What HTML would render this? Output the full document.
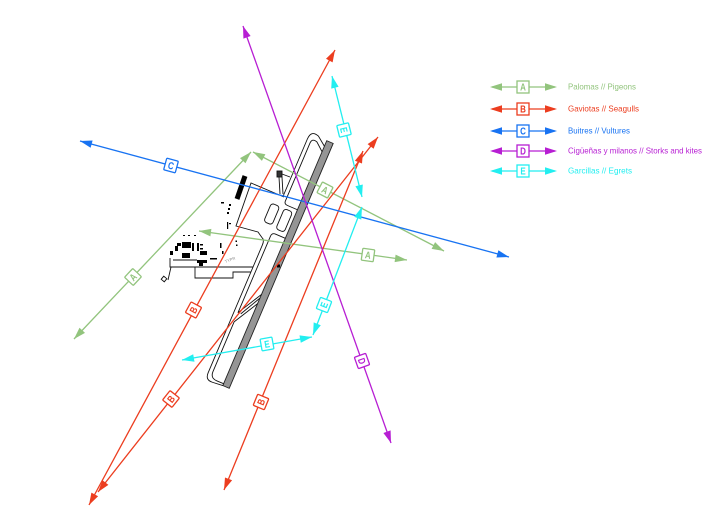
<!DOCTYPE html>
<html><head><meta charset="utf-8"><style>
html,body{margin:0;padding:0;background:#fff;}
svg{display:block;}
text{font-family:"Liberation Sans",sans-serif;}
</style></head><body>
<svg width="710" height="516" viewBox="0 0 710 516" xmlns="http://www.w3.org/2000/svg">
<rect width="710" height="516" fill="#fff"/>

<!-- Airport -->
<g transform="translate(278,264.5) rotate(23)" fill="none" stroke="#111" stroke-width="0.9">
  <rect x="-3.5" y="-133" width="7" height="266" fill="#959595" stroke="#222"/>
  <path d="M-3.5,-127 L-13,-134 Q-22,-137 -22,-127 L-22,-64"/>
  <path d="M-3.5,-121 L-12,-128 Q-18,-130 -18,-124 L-18,-61 Q-18,-58 -14,-58 L-3.5,-58"/>
  <rect x="-30" y="-54" width="9" height="20" rx="3"/>
  <rect x="-16" y="-54" width="9" height="22" rx="3"/>
  <path d="M-3.5,-27 L-14,-27 Q-18,-27 -18,-23 L-18,60"/>
  <path d="M-18,70 L-18,124 Q-18,131 -11,131 L-3.5,131"/>
  <path d="M-24,-18 Q-22,-16 -22,-12 L-22,127 Q-22,135 -14,134 L-3.5,133"/>
  <path d="M-3.5,34 L-18,60"/>
  <path d="M-3.5,44 L-18,70"/>
  <path d="M-3.5,38 L-15,60"/>
</g>
<g fill="none" stroke="#111" stroke-width="0.9">
  <path d="M284,197 L251,183 L236,226 L258,232 L263,239"/>
  <rect x="277" y="171" width="5" height="6" fill="#333"/>
  <path d="M279,177 L280,194 M282,177 L283,194 M282,174 L290,177"/>
  <path d="M170,258 L170,267 L253,267"/>
  <path d="M195,267 L195,278 L233,278 L233,272 L251,272"/>
  <path d="M173,260 L197,260"/>
  <path d="M171,267 L168,280"/>
  <rect x="162" y="277" width="4" height="4" transform="rotate(40 164 279)"/>
</g>
<line x1="245" y1="176" x2="237" y2="199" stroke="#000" stroke-width="5"/>
<g fill="#000">
  <rect x="221" y="202" width="3" height="1.5"/>
  <rect x="229" y="204" width="2" height="2"/>
  <rect x="228" y="208" width="2" height="2"/>
  <rect x="227" y="212" width="2" height="2"/>
  <rect x="227" y="222" width="1.2" height="7"/>
  <rect x="229" y="223" width="2" height="1.2"/>
  <rect x="235.5" y="240.5" width="1.5" height="1.5"/>
  <rect x="236" y="244.5" width="1.5" height="1.5"/>
  <rect x="277" y="264.5" width="3" height="3"/>
  <rect x="177" y="243" width="4" height="3"/>
  <rect x="182" y="242" width="9" height="6"/>
  <rect x="182" y="253" width="8" height="5"/>
  <rect x="192" y="243" width="2" height="8"/>
  <rect x="197" y="243" width="2" height="8"/>
  <rect x="200" y="244" width="3" height="1.5"/>
  <rect x="200" y="248" width="3" height="1.5"/>
  <rect x="200" y="251" width="7" height="4"/>
  <rect x="197" y="260" width="10" height="3"/>
  <rect x="199" y="263" width="4" height="3"/>
  <rect x="210" y="258" width="7" height="1.5"/>
  <rect x="220" y="243" width="1.5" height="5"/>
  <rect x="222" y="251" width="1.5" height="3"/>
  <rect x="175" y="246" width="3" height="5"/>
  <rect x="170" y="251" width="3" height="4"/>
  <rect x="183" y="235" width="2" height="1"/>
  <rect x="188" y="235" width="2" height="1"/>
  <rect x="194" y="235" width="2" height="1"/>
</g>
<text x="225" y="262" font-size="4" fill="#888" transform="rotate(-20 228 261)">TYPR</text>

<!-- Lines -->
<g stroke-width="1.3" fill="none">
  <line x1="74" y1="339" x2="251" y2="152" stroke="#92c47d"/>
  <line x1="253" y1="152" x2="444" y2="251" stroke="#92c47d"/>
  <line x1="199" y1="231" x2="407" y2="260" stroke="#92c47d"/>
  <line x1="89" y1="505" x2="335" y2="50" stroke="#ec3d1f"/>
  <line x1="98" y1="492" x2="378" y2="137" stroke="#ec3d1f"/>
  <line x1="224" y1="490" x2="363" y2="151" stroke="#ec3d1f"/>
  <line x1="80" y1="141" x2="509" y2="257" stroke="#1873f2"/>
  <line x1="243" y1="26" x2="391" y2="443" stroke="#b71ed3"/>
  <line x1="332" y1="76" x2="362" y2="197" stroke="#22eef0"/>
  <line x1="362" y1="207" x2="313" y2="335" stroke="#22eef0"/>
  <line x1="182" y1="360" x2="312" y2="337" stroke="#22eef0"/>
</g>
<!-- Arrowheads -->
<g fill="#92c47d">
  <polygon points="251,152 245.5,163.3 240.0,158.1"/>
  <polygon points="74,339 85.0,332.9 79.5,327.7"/>
  <polygon points="444,251 431.6,248.9 435.1,242.1"/>
  <polygon points="253,152 261.9,160.9 265.4,154.2"/>
  <polygon points="407,260 394.6,262.1 395.6,254.6"/>
  <polygon points="199,231 210.4,236.4 211.4,228.9"/>
</g>
<g fill="#ec3d1f">
  <polygon points="335,50 332.6,62.4 326.0,58.8"/>
  <polygon points="89,505 98.1,496.3 91.4,492.6"/>
  <polygon points="378,137 373.6,148.8 367.6,144.1"/>
  <polygon points="98,492 108.4,484.9 102.5,480.2"/>
  <polygon points="363,151 362.0,163.5 354.9,160.7"/>
  <polygon points="224,490 232.1,480.3 225.0,477.5"/>
</g>
<g fill="#1873f2">
  <polygon points="509,257 496.4,257.5 498.4,250.2"/>
  <polygon points="80,141 90.6,147.8 92.6,140.5"/>
</g>
<g fill="#b71ed3">
  <polygon points="391,443 383.4,433.0 390.6,430.4"/>
  <polygon points="243,26 243.4,38.6 250.6,36.0"/>
</g>
<g fill="#22eef0">
  <polygon points="362,197 355.4,186.3 362.8,184.5"/>
  <polygon points="332,76 331.2,88.6 338.6,86.7"/>
  <polygon points="313,335 313.7,322.4 320.8,325.2"/>
  <polygon points="362,207 354.2,216.8 361.3,219.6"/>
  <polygon points="312,337 300.8,342.8 299.5,335.4"/>
  <polygon points="182,360 194.5,361.7 193.2,354.2"/>
</g>

<!-- Labels on lines -->
<g font-size="10" font-weight="bold" text-anchor="middle">
  <g transform="translate(133,277) rotate(-46.6)"><rect x="-6" y="-6" width="12" height="12" rx="1" fill="#fff" stroke="#92c47d" stroke-width="1.3"/><text x="0" y="3.6" fill="#92c47d" transform="scale(0.8,1)">A</text></g>
  <g transform="translate(325,190) rotate(27.4)"><rect x="-6" y="-6" width="12" height="12" rx="1" fill="#fff" stroke="#92c47d" stroke-width="1.3"/><text x="0" y="3.6" fill="#92c47d" transform="scale(0.8,1)">A</text></g>
  <g transform="translate(368,255) rotate(7.9)"><rect x="-6" y="-6" width="12" height="12" rx="1" fill="#fff" stroke="#92c47d" stroke-width="1.3"/><text x="0" y="3.6" fill="#92c47d" transform="scale(0.8,1)">A</text></g>
  <g transform="translate(193.5,310) rotate(-61.6)"><rect x="-6" y="-6" width="12" height="12" rx="1" fill="#fff" stroke="#ec3d1f" stroke-width="1.3"/><text x="0" y="3.6" fill="#ec3d1f" transform="scale(0.8,1)">B</text></g>
  <g transform="translate(171,399) rotate(-51.7)"><rect x="-6" y="-6" width="12" height="12" rx="1" fill="#fff" stroke="#ec3d1f" stroke-width="1.3"/><text x="0" y="3.6" fill="#ec3d1f" transform="scale(0.8,1)">B</text></g>
  <g transform="translate(261,402) rotate(-67.7)"><rect x="-6" y="-6" width="12" height="12" rx="1" fill="#fff" stroke="#ec3d1f" stroke-width="1.3"/><text x="0" y="3.6" fill="#ec3d1f" transform="scale(0.8,1)">B</text></g>
  <g transform="translate(171,165.5) rotate(15.1)"><rect x="-6" y="-6" width="12" height="12" rx="1" fill="#fff" stroke="#1873f2" stroke-width="1.3"/><text x="0" y="3.6" fill="#1873f2" transform="scale(0.8,1)">C</text></g>
  <g transform="translate(362,361) rotate(70.5)"><rect x="-6" y="-6" width="12" height="12" rx="1" fill="#fff" stroke="#b71ed3" stroke-width="1.3"/><text x="0" y="3.6" fill="#b71ed3" transform="scale(0.8,1)">D</text></g>
  <g transform="translate(344,130) rotate(76.1)"><rect x="-6" y="-6" width="12" height="12" rx="1" fill="#fff" stroke="#22eef0" stroke-width="1.3"/><text x="0" y="3.6" fill="#22eef0" transform="scale(0.8,1)">E</text></g>
  <g transform="translate(324,305) rotate(-69.1)"><rect x="-6" y="-6" width="12" height="12" rx="1" fill="#fff" stroke="#22eef0" stroke-width="1.3"/><text x="0" y="3.6" fill="#22eef0" transform="scale(0.8,1)">E</text></g>
  <g transform="translate(267,344) rotate(-10.1)"><rect x="-6" y="-6" width="12" height="12" rx="1" fill="#fff" stroke="#22eef0" stroke-width="1.3"/><text x="0" y="3.6" fill="#22eef0" transform="scale(0.8,1)">E</text></g>
</g>

<!-- Legend -->
<g stroke-width="1.3">
  <line x1="492" y1="87" x2="555" y2="87" stroke="#92c47d"/>
  <line x1="492" y1="109" x2="555" y2="109" stroke="#ec3d1f"/>
  <line x1="492" y1="131" x2="555" y2="131" stroke="#1873f2"/>
  <line x1="492" y1="151" x2="555" y2="151" stroke="#b71ed3"/>
  <line x1="492" y1="171" x2="555" y2="171" stroke="#22eef0"/>
</g>
<g fill="#92c47d"><polygon points="490,87 502,83.2 502,90.8"/><polygon points="557,87 545,83.2 545,90.8"/></g>
<g fill="#ec3d1f"><polygon points="490,109 502,105.2 502,112.8"/><polygon points="557,109 545,105.2 545,112.8"/></g>
<g fill="#1873f2"><polygon points="490,131 502,127.2 502,134.8"/><polygon points="557,131 545,127.2 545,134.8"/></g>
<g fill="#b71ed3"><polygon points="490,151 502,147.2 502,154.8"/><polygon points="557,151 545,147.2 545,154.8"/></g>
<g fill="#22eef0"><polygon points="490,171 502,167.2 502,174.8"/><polygon points="557,171 545,167.2 545,174.8"/></g>
<g font-size="10" font-weight="bold" text-anchor="middle">
  <rect x="517" y="81" width="12" height="12" fill="#fff" stroke="#92c47d" stroke-width="1.3"/><text x="653.75" y="90.6" fill="#92c47d" transform="scale(0.8,1)">A</text>
  <rect x="517" y="103" width="12" height="12" fill="#fff" stroke="#ec3d1f" stroke-width="1.3"/><text x="653.75" y="112.6" fill="#ec3d1f" transform="scale(0.8,1)">B</text>
  <rect x="517" y="125" width="12" height="12" fill="#fff" stroke="#1873f2" stroke-width="1.3"/><text x="653.75" y="134.6" fill="#1873f2" transform="scale(0.8,1)">C</text>
  <rect x="517" y="145" width="12" height="12" fill="#fff" stroke="#b71ed3" stroke-width="1.3"/><text x="653.75" y="154.6" fill="#b71ed3" transform="scale(0.8,1)">D</text>
  <rect x="517" y="165" width="12" height="12" fill="#fff" stroke="#22eef0" stroke-width="1.3"/><text x="653.75" y="174.6" fill="#22eef0" transform="scale(0.8,1)">E</text>
</g>
<g font-size="8.5">
  <text x="568" y="89.5" fill="#92c47d" textLength="68" lengthAdjust="spacingAndGlyphs">Palomas // Pigeons</text>
  <text x="568" y="111.5" fill="#ec3d1f" textLength="71" lengthAdjust="spacingAndGlyphs">Gaviotas // Seagulls</text>
  <text x="568" y="133.5" fill="#1873f2" textLength="62" lengthAdjust="spacingAndGlyphs">Buitres // Vultures</text>
  <text x="568" y="153.5" fill="#b71ed3" textLength="134" lengthAdjust="spacingAndGlyphs">Cigüeñas y milanos // Storks and kites</text>
  <text x="568" y="173.5" fill="#22eef0" textLength="64" lengthAdjust="spacingAndGlyphs">Garcillas // Egrets</text>
</g>
</svg>
</body></html>
